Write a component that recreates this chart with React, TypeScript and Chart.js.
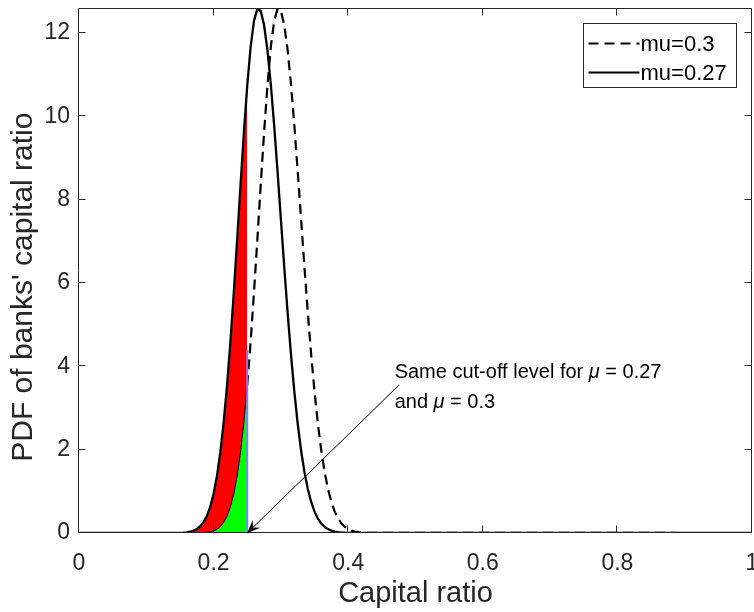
import React, { useEffect, useRef } from "react";
import { Chart, registerables } from "chart.js";

Chart.register(...registerables);

// ---- data ----
const capitalRatio = [
  0, 0.14, 0.145, 0.15, 0.155, 0.16, 0.165, 0.17, 0.175, 0.18, 0.185, 0.19, 0.195,
  0.2, 0.205, 0.21, 0.215, 0.22, 0.225, 0.23, 0.235, 0.24, 0.245, 0.25, 0.255, 0.26,
  0.265, 0.27, 0.275, 0.28, 0.285, 0.29, 0.295, 0.3, 0.305, 0.31, 0.315, 0.32, 0.325,
  0.33, 0.335, 0.34, 0.345, 0.35, 0.355, 0.36, 0.365, 0.37, 0.375, 0.38, 0.385, 0.39,
  0.395, 0.4, 0.405, 0.41, 0.415, 0.42, 0.425, 0.43, 1,
];
const pdfMu027 = [
  0, 0.001, 0.002, 0.004, 0.009, 0.016, 0.03, 0.054, 0.093, 0.157, 0.256, 0.407, 0.629,
  0.942, 1.371, 1.938, 2.661, 3.546, 4.589, 5.77, 7.041, 8.348, 9.609, 10.74, 11.66, 12.29,
  12.58, 12.53, 12.19, 11.59, 10.77, 9.778, 8.678, 7.527, 6.379, 5.284, 4.279, 3.386, 2.618,
  1.979, 1.461, 1.055, 0.744, 0.513, 0.345, 0.228, 0.147, 0.092, 0.057, 0.034, 0.02, 0.011,
  0.006, 0.003, 0.002, 0.001, 0.001, 0, 0, 0, 0,
];
const pdfMu03 = [
  0, 0, 0, 0, 0, 0, 0, 0.001, 0.002, 0.004, 0.009, 0.016, 0.03,
  0.054, 0.093, 0.157, 0.256, 0.407, 0.629, 0.942, 1.371, 1.938, 2.661, 3.546, 4.589, 5.77,
  7.041, 8.348, 9.609, 10.74, 11.66, 12.29, 12.58, 12.53, 12.19, 11.59, 10.77, 9.778, 8.678,
  7.527, 6.379, 5.284, 4.279, 3.386, 2.618, 1.979, 1.461, 1.055, 0.744, 0.513, 0.345, 0.228,
  0.147, 0.092, 0.057, 0.034, 0.02, 0.011, 0.006, 0.003, 0,
];
const cutoffLevel = 0.25;
const cutoffMarkTop = 4.4;
const xTicks = [0, 0.2, 0.4, 0.6, 0.8, 1];
const xTickLabels = ["0", "0.2", "0.4", "0.6", "0.8", "1"];
const yTicks = [0, 2, 4, 6, 8, 10, 12];
const yTickLabels = ["0", "2", "4", "6", "8", "10", "12"];
const legendLabels = ["mu=0.3", "mu=0.27"];
const xTitle = "Capital ratio";
const yTitle = "PDF of banks' capital ratio";
const noteLine1 = ["Same cut-off level for ", "\u03bc", " = 0.27"];
const noteLine2 = ["and ", "\u03bc", " = 0.3"];
// annotation anchor (data units)
const noteAt = { x: 0.469, y1: 3.86, y2: 3.14 };
const arrowFrom = { x: 0.4755, y: 3.55 };
const arrowTo = { x: 0.25, y: 0 };
// y-axis title centre (data units of the y scale)
const yTitleAt = 5.9;

const FONT = "'Liberation Sans', Arial, Helvetica, sans-serif";
const AXIS = "#262626";

const pts = (xs: number[], ys: number[]) => xs.map((x, i) => ({ x, y: ys[i] }));

export default function App() {
  const ref = useRef<HTMLCanvasElement | null>(null);

  useEffect(() => {
    document.body.style.margin = "0";
    const canvas = ref.current;
    if (!canvas) return;

    const shadeIdx: number[] = [];
    capitalRatio.forEach((x, i) => {
      if (x > 0 && x <= cutoffLevel + 1e-9) shadeIdx.push(i);
    });
    const redTop = shadeIdx.map((i) => ({ x: capitalRatio[i], y: pdfMu027[i] }));
    const greenTop = shadeIdx.map((i) => ({ x: capitalRatio[i], y: pdfMu03[i] }));

    const overlay = {
      id: "overlay",
      afterDraw(chart: any) {
        const { ctx, chartArea: a, scales } = chart;
        const xs = scales.x;
        const ys = scales.y;
        ctx.save();
        // box + inward ticks
        ctx.strokeStyle = AXIS;
        ctx.lineWidth = 1;
        const L = Math.round(a.left) - 0.5;
        const R = Math.round(a.right) - 0.5;
        const T = Math.round(a.top) + 0.5;
        const B = Math.round(a.bottom) - 0.5;
        ctx.beginPath();
        ctx.rect(L, T, R - L, B - T);
        const tl = 7;
        xTicks.forEach((v) => {
          const px = Math.round(xs.getPixelForValue(v)) - 0.5;
          ctx.moveTo(px, B);
          ctx.lineTo(px, B - tl);
          ctx.moveTo(px, T);
          ctx.lineTo(px, T + tl);
        });
        yTicks.forEach((v) => {
          const py = Math.round(ys.getPixelForValue(v)) - 0.5;
          ctx.moveTo(L, py);
          ctx.lineTo(L + tl, py);
          ctx.moveTo(R, py);
          ctx.lineTo(R - tl, py);
        });
        ctx.stroke();

        // y-axis title
        ctx.save();
        ctx.translate(24, ys.getPixelForValue(yTitleAt));
        ctx.rotate(-Math.PI / 2);
        ctx.fillStyle = AXIS;
        ctx.font = `30px ${FONT}`;
        ctx.textAlign = "center";
        ctx.textBaseline = "middle";
        ctx.fillText(yTitle, 0, 0);
        ctx.restore();

        // legend
        const bw = 153;
        const bh = 64;
        const bx = Math.round(a.right) - 16 - bw + 0.5;
        const by = Math.round(a.top) + 15 + 0.5;
        ctx.fillStyle = "#fff";
        ctx.fillRect(bx, by, bw, bh);
        ctx.strokeStyle = AXIS;
        ctx.lineWidth = 1;
        ctx.strokeRect(bx, by, bw, bh);
        const rows = [by + 20, by + 49];
        const dashes = [[10, 6], []];
        legendLabels.forEach((lab, i) => {
          ctx.beginPath();
          ctx.setLineDash(dashes[i]);
          ctx.strokeStyle = "#000";
          ctx.lineWidth = 2;
          ctx.moveTo(bx + 5, rows[i]);
          ctx.lineTo(bx + 56, rows[i]);
          ctx.stroke();
          ctx.setLineDash([]);
          ctx.fillStyle = "#000";
          ctx.font = `22px ${FONT}`;
          ctx.textBaseline = "middle";
          ctx.textAlign = "left";
          ctx.fillText(lab, bx + 57, rows[i] + 1);
        });

        // annotation arrow
        const fx = xs.getPixelForValue(arrowFrom.x);
        const fy = ys.getPixelForValue(arrowFrom.y);
        const tx = xs.getPixelForValue(arrowTo.x);
        const ty = ys.getPixelForValue(arrowTo.y);
        ctx.strokeStyle = "#000";
        ctx.lineWidth = 1;
        ctx.beginPath();
        ctx.moveTo(fx, fy);
        ctx.lineTo(tx, ty);
        ctx.stroke();
        const len = Math.hypot(tx - fx, ty - fy);
        const ux = (tx - fx) / len;
        const uy = (ty - fy) / len;
        const nx = -uy;
        const ny = ux;
        ctx.fillStyle = "#000";
        ctx.beginPath();
        ctx.moveTo(tx, ty);
        ctx.lineTo(tx - ux * 13 + nx * 5.5, ty - uy * 13 + ny * 5.5);
        ctx.lineTo(tx - ux * 8, ty - uy * 8);
        ctx.lineTo(tx - ux * 13 - nx * 5.5, ty - uy * 13 - ny * 5.5);
        ctx.closePath();
        ctx.fill();

        // annotation text
        const drawLine = (parts: string[], yv: number) => {
          let px = xs.getPixelForValue(noteAt.x);
          const py = ys.getPixelForValue(yv);
          ctx.textBaseline = "middle";
          ctx.textAlign = "left";
          parts.forEach((p, i) => {
            ctx.font = i === 1 ? `italic 20px ${FONT}` : `20px ${FONT}`;
            ctx.fillStyle = "#000";
            ctx.fillText(p, px, py);
            px += ctx.measureText(p).width;
          });
        };
        drawLine(noteLine1, noteAt.y1);
        drawLine(noteLine2, noteAt.y2);
        ctx.restore();
      },
    };

    const tickFont = { family: FONT, size: 23 };
    const titleFont = { family: FONT, size: 29 };

    const chart = new Chart(canvas, {
      type: "line",
      data: {
        datasets: [
          {
            label: legendLabels[0],
            data: pts(capitalRatio, pdfMu03),
            borderColor: "#000",
            borderWidth: 2.2,
            borderDash: [10, 6],
            pointRadius: 0,
            fill: false,
            order: 4,
          },
          {
            label: "shade-red",
            data: redTop,
            borderWidth: 0,
            borderColor: "rgba(0,0,0,0)",
            backgroundColor: "#ff0000",
            pointRadius: 0,
            fill: "+1",
            order: 3,
          },
          {
            label: "shade-green",
            data: greenTop,
            borderWidth: 1,
            borderColor: "#000",
            backgroundColor: "#00ff00",
            pointRadius: 0,
            fill: "origin",
            order: 2,
          },
          {
            label: "cutoff",
            data: [
              { x: cutoffLevel, y: 0 },
              { x: cutoffLevel, y: cutoffMarkTop },
            ],
            borderColor: "#8080ff",
            borderWidth: 2,
            pointRadius: 0,
            fill: false,
            order: 1,
          },
          {
            label: legendLabels[1],
            data: pts(capitalRatio, pdfMu027),
            borderColor: "#000",
            borderWidth: 2.3,
            pointRadius: 0,
            fill: false,
            order: 0,
          },
        ],
      },
      options: {
        animation: false,
        responsive: false,
        maintainAspectRatio: false,
        layout: { padding: { top: 8, right: 2, left: 0, bottom: 0 } },
        plugins: { legend: { display: false }, tooltip: { enabled: false } },
        elements: { line: { tension: 0 } },
        scales: {
          x: {
            type: "linear",
            min: 0,
            max: 1,
            afterBuildTicks: (s: any) => {
              s.ticks = xTicks.map((v) => ({ value: v }));
            },
            ticks: {
              autoSkip: false,
              maxRotation: 0,
              padding: 17,
              color: AXIS,
              font: tickFont,
              callback: (v: any) => xTickLabels[xTicks.indexOf(Number(v))] ?? "",
            },
            grid: { display: false, drawTicks: false },
            border: { display: false },
            title: { display: true, text: xTitle, color: AXIS, font: titleFont, padding: { top: 0, bottom: 1 } },
            afterFit: (s: any) => {
              s.height = 79;
              s.paddingLeft = 0;
              s.paddingRight = 0;
            },
          },
          y: {
            type: "linear",
            min: 0,
            max: 12.6,
            afterBuildTicks: (s: any) => {
              s.ticks = yTicks.map((v) => ({ value: v }));
            },
            ticks: {
              autoSkip: false,
              padding: 9,
              color: AXIS,
              font: tickFont,
              callback: (v: any) => yTickLabels[yTicks.indexOf(Number(v))] ?? "",
            },
            grid: { display: false, drawTicks: false },
            border: { display: false },
            title: { display: false, text: yTitle },
            afterFit: (s: any) => {
              s.width = 79;
              s.paddingTop = 0;
              s.paddingBottom = 0;
            },
          },
        },
      },
      plugins: [overlay],
    } as any);

    return () => chart.destroy();
  }, []);

  return (
    <div style={{ width: 754, height: 612 }}>
      <canvas ref={ref} width={754} height={612} style={{ display: "block", width: 754, height: 612 }} />
    </div>
  );
}
